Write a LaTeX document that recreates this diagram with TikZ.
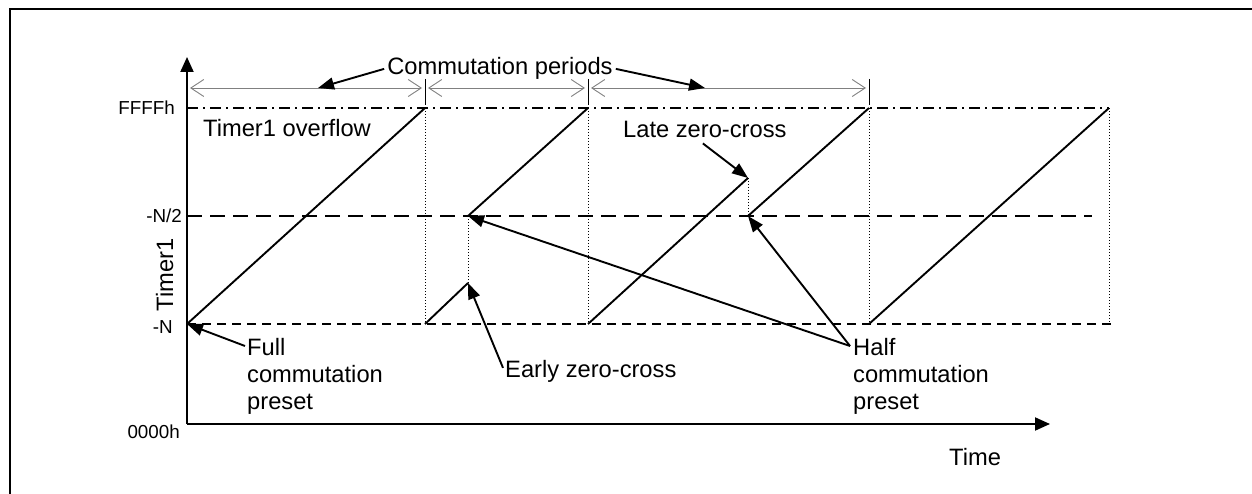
\documentclass[tikz,border=0pt]{standalone}
\usepackage{fontspec}
\setmainfont{Liberation Sans}
\usetikzlibrary{arrows.meta,calc}
\begin{document}
\begin{tikzpicture}[x=1pt,y=-1pt,
  lbl/.style={font=\fontsize{23.7}{27}\selectfont, inner sep=0pt},
  axlbl/.style={font=\fontsize{18.8}{22}\selectfont, inner sep=0pt},
  axisline/.style={line width=2pt, -{Triangle[length=15pt,width=13pt]}},
  ramp/.style={line width=1.9pt},
  drop/.style={line width=1pt, dash pattern=on 1pt off 2pt},
  ptr/.style={line width=1.9pt, -{Triangle[length=16pt,width=12pt]}},
  span/.style={draw=gray, line width=0.9pt,
    {Straight Barb[length=13pt,width=17pt]}-{Straight Barb[length=13pt,width=17pt]}},
  tickmark/.style={line width=1pt},
]
\useasboundingbox (0,0) rectangle (1252,494);

% outer frame (left and top edges)
\draw[line width=2.8pt] (10,494) -- (10,9) -- (1252,9);

% axes
\coordinate (O) at (187,424);
\coordinate (Ytip) at (187,57);
\coordinate (Xtip) at (1050,424);
\draw[axisline] (O) -- (Ytip);
\draw[axisline] (O) -- (Xtip);

% reference levels
\coordinate (topL) at (187,108);  \coordinate (topR) at (1109,108);
\coordinate (midL) at (187,216);  \coordinate (midR) at (1092,216);
\coordinate (lowL) at (187,324);  \coordinate (lowR) at (1112,324);
\draw[line width=1.6pt, dash pattern=on 11pt off 5pt on 2pt off 5pt] (topL) -- (topR);
\draw[line width=1.6pt, dash pattern=on 15pt off 8pt] (midL) -- (midR);
\draw[line width=1.6pt, dash pattern=on 9pt off 6pt] (lowL) -- (lowR);

% timer ramps
\coordinate (r1a) at (187,324); \coordinate (r1b) at (425,108);
\coordinate (r2a) at (425,324); \coordinate (r2b) at (468,283);
\coordinate (r2c) at (468,216); \coordinate (r2d) at (588,108);
\coordinate (r3a) at (588,324); \coordinate (r3b) at (748,178);
\coordinate (r3c) at (748,216); \coordinate (r3d) at (869,108);
\coordinate (r4a) at (869,324); \coordinate (r4b) at (1109,108);
\coordinate (r4c) at (1109,324);
\draw[ramp] (r1a) -- (r1b);
\draw[ramp] (r2a) -- (r2b);
\draw[ramp] (r2c) -- (r2d);
\draw[ramp] (r3a) -- (r3b);
\draw[ramp] (r3c) -- (r3d);
\draw[ramp] (r4a) -- (r4b);

% resets and presets
\draw[drop] (r1b) -- (r2a);
\draw[drop] (r2b) -- (r2c);
\draw[drop] (r2d) -- (r3a);
\draw[drop] (r3b) -- (r3c);
\draw[drop] (r3d) -- (r4a);
\draw[drop] (r4b) -- (r4c);

% commutation period spans
\coordinate (s1a) at (190,88); \coordinate (s1b) at (422,88);
\coordinate (s2a) at (428,88); \coordinate (s2b) at (585,88);
\coordinate (s3a) at (591,88); \coordinate (s3b) at (866,88);
\draw[span] (s1a) -- (s1b);
\draw[span] (s2a) -- (s2b);
\draw[span] (s3a) -- (s3b);
\coordinate (t1a) at (425,79); \coordinate (t1b) at (425,105);
\coordinate (t2a) at (588,79); \coordinate (t2b) at (588,105);
\coordinate (t3a) at (869,79); \coordinate (t3b) at (869,105);
\draw[tickmark] (t1a) -- (t1b);
\draw[tickmark] (t2a) -- (t2b);
\draw[tickmark] (t3a) -- (t3b);

% axis labels
\node[axlbl, anchor=base east] (lF) at (175,115) {FFFFh};
\node[axlbl, anchor=base east] (lH) at (182,223) {-N/2};
\node[axlbl, anchor=base east] (lN) at (173,333) {-N};
\node[axlbl, anchor=base east] (l0) at (180,438) {0000h};
\node[lbl, rotate=90, anchor=base] (ylab) at (173,275) {Timer1};
\node[lbl, anchor=base west] (xlab) at (949,465) {Time};

% annotations
\node[lbl, anchor=base] (cp) at (500,75) {Commutation periods};
\coordinate (cpL) at (318,88);
\coordinate (cpR) at (705,88);
\draw[ptr] ([xshift=-3pt]cp.west) -- (cpL);
\draw[ptr] ([xshift=3pt]cp.east) -- (cpR);

\node[lbl, anchor=base west] (tov) at (203,137) {Timer1 overflow};

\node[lbl, anchor=base west] (late) at (623,138) {Late zero-cross};
\draw[ptr] ([shift={(-2,5)}]late.south) -- (r3b);

\node[lbl, anchor=base west] (early) at (505,377) {Early zero-cross};
\draw[ptr] ([shift={(-2,-3)}]early.west) -- (r2b);

\node[lbl, anchor=north west, align=left] (full) at (247,338) {Full\\commutation\\preset};
\draw[ptr] ([shift={(-2,8)}]full.north west) -- (r1a);

\node[lbl, anchor=north west, align=left] (half) at (853,338) {Half\\commutation\\preset};
\draw[ptr] ([shift={(-3,8)}]half.north west) -- (r2c);
\draw[ptr] ([shift={(-3,8)}]half.north west) -- (r3c);
\end{tikzpicture}
\end{document}
